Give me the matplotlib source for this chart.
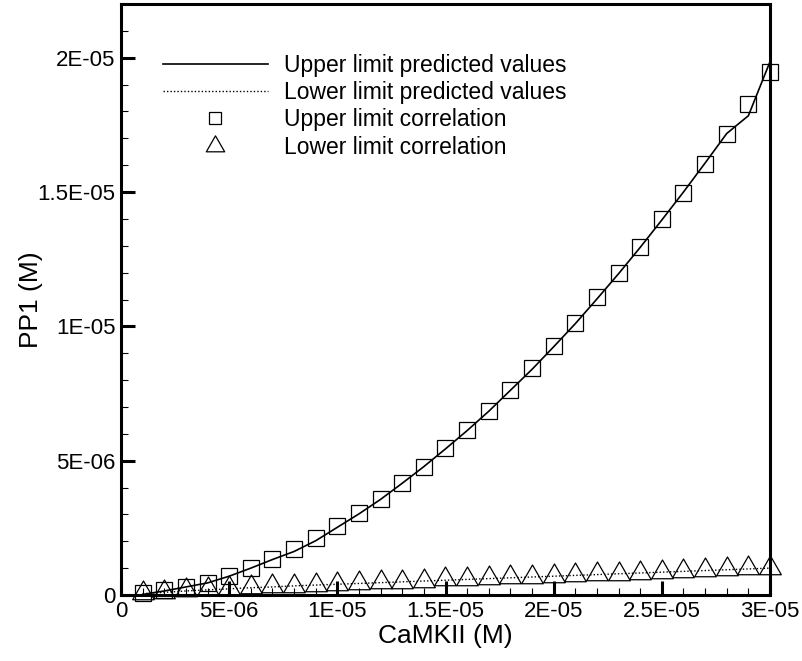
import numpy as np
import matplotlib.pyplot as plt
from matplotlib.path import Path

# =========================
# Data (CaMKII in M, PP1 in 1E-06 M)
# =========================
camkii_uM = np.arange(1, 31)  # 1E-06 ... 3E-05

upper_corr = [0.07, 0.19, 0.30, 0.45, 0.71, 1.00, 1.34, 1.71, 2.12, 2.57,
              3.05, 3.58, 4.18, 4.76, 5.46, 6.13, 6.84, 7.62, 8.44, 9.26,
              10.11, 11.08, 11.97, 12.94, 13.98, 14.98, 16.06, 17.17, 18.29, 19.48]

upper_pred = [0.02, 0.15, 0.30, 0.45, 0.70, 1.00, 1.32, 1.62, 2.02, 2.52,
              3.02, 3.56, 4.16, 4.78, 5.44, 6.12, 6.84, 7.62, 8.40, 9.24,
              10.10, 11.02, 11.96, 12.94, 13.96, 15.00, 16.08, 17.18, 17.84, 19.85]

lower_pred = [0.05, 0.10, 0.15, 0.19, 0.23, 0.27, 0.30, 0.34, 0.37, 0.40,
              0.43, 0.46, 0.49, 0.52, 0.55, 0.58, 0.61, 0.64, 0.67, 0.70,
              0.73, 0.76, 0.79, 0.82, 0.85, 0.88, 0.91, 0.94, 0.97, 1.00]

lower_corr = [0.08, 0.11, 0.17, 0.22, 0.26, 0.29, 0.32, 0.35, 0.38, 0.41,
              0.44, 0.47, 0.50, 0.53, 0.58, 0.59, 0.62, 0.66, 0.68, 0.72,
              0.74, 0.77, 0.78, 0.81, 0.87, 0.89, 0.93, 0.96, 1.02, 1.00]

x_ticks = [0, 5e-6, 1e-5, 1.5e-5, 2e-5, 2.5e-5, 3e-5]
x_ticklabels = ["0", "5E-06", "1E-05", "1.5E-05", "2E-05", "2.5E-05", "3E-05"]
y_ticks = [0, 5e-6, 1e-5, 1.5e-5, 2e-5]
y_ticklabels = ["0", "5E-06", "1E-05", "1.5E-05", "2E-05"]

x = camkii_uM * 1e-6
scale = 1e-6

# =========================
# Style
# =========================
plt.rcParams["font.family"] = ["Liberation Sans", "DejaVu Sans"]
tick_fontsize = 16
label_fontsize = 19
legend_fontsize = 16.5

# triangle centred on its centroid (like Tecplot symbols)
tri = Path([(0, 1), (-0.866, -0.5), (0.866, -0.5), (0, 1)],
           [Path.MOVETO, Path.LINETO, Path.LINETO, Path.CLOSEPOLY])

fig = plt.figure(figsize=(8.03, 6.61), dpi=100)
ax = fig.add_axes([121 / 803, 66 / 661, 649 / 803, 591 / 661])

ax.plot(x, np.array(upper_pred) * scale, color="black", linewidth=1.2,
        label="Upper limit predicted values")
ax.plot(x, np.array(lower_pred) * scale, color="black", linewidth=1.0,
        linestyle=(0, (1, 1.5)), label="Lower limit predicted values")
ax.plot(x, np.array(upper_corr) * scale, linestyle="none", marker="s",
        markersize=11, markerfacecolor="none", markeredgecolor="black",
        markeredgewidth=0.9, label="Upper limit correlation", clip_on=False)
ax.plot(x, np.array(lower_corr) * scale, linestyle="none", marker=tri,
        markersize=18, markerfacecolor="none", markeredgecolor="black",
        markeredgewidth=0.9, label="Lower limit correlation", clip_on=False)

ax.set_xlim(0, 3e-5)
ax.set_ylim(0, 2.2e-5)
ax.set_xticks(x_ticks)
ax.set_xticklabels(x_ticklabels)
ax.set_yticks(y_ticks)
ax.set_yticklabels(y_ticklabels)
ax.set_xticks(np.arange(0, 3.01e-5, 1e-6), minor=True)
ax.set_yticks(np.arange(0, 2.21e-5, 1e-6), minor=True)

ax.tick_params(which="major", direction="in", length=10, width=2.2,
               labelsize=tick_fontsize, pad=4)
ax.tick_params(which="minor", direction="in", length=5, width=0.8)
ax.tick_params(top=False, right=False, which="both")
for sp in ax.spines.values():
    sp.set_linewidth(2.2)

ax.set_xlabel("CaMKII (M)", fontsize=label_fontsize, labelpad=2)
ax.set_ylabel("PP1 (M)", fontsize=label_fontsize, labelpad=-4)

ax.legend(loc="upper left", bbox_to_anchor=(0.05, 0.931), frameon=False,
          fontsize=legend_fontsize, handlelength=4.6, handletextpad=0.7,
          labelspacing=0.185, borderaxespad=0, markerscale=0.85)

plt.savefig("out.png", dpi=100)
